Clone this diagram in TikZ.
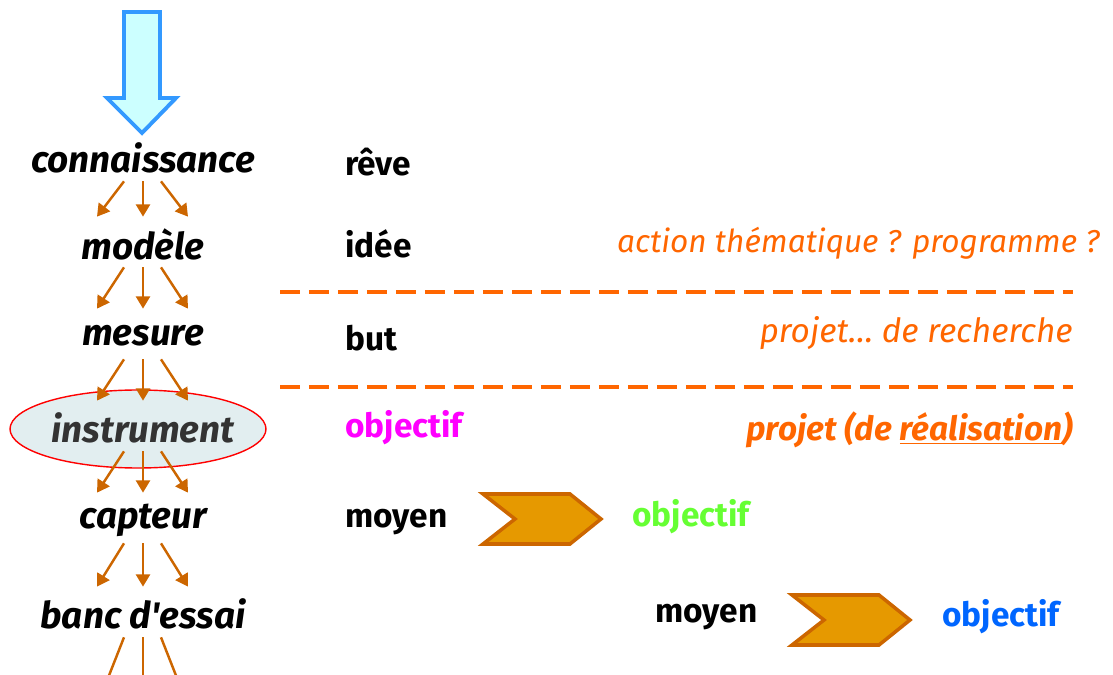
\documentclass[tikz,border=0pt]{standalone}
\usepackage{fontspec}
\setmainfont{Fira Sans}
\usetikzlibrary{arrows.meta}

\definecolor{brun}{HTML}{CC6600}
\definecolor{orangec}{HTML}{FF6600}
\definecolor{ciel}{HTML}{CCFFFF}
\definecolor{bleuf}{HTML}{3399FF}
\definecolor{or}{HTML}{E69900}
\definecolor{gris}{HTML}{E2EEF0}
\definecolor{rose}{HTML}{FF00FF}
\definecolor{vert}{HTML}{66FF33}
\definecolor{bleu}{HTML}{0066FF}

\tikzset{
  savoir/.style={font=\fontsize{21}{24}\selectfont\bfseries\itshape, minimum height=0.92cm, inner sep=0},
  mot/.style={anchor=west, font=\fontsize{19}{22}\selectfont\bfseries, inner sep=0},
  commentaire/.style={anchor=east, text=orangec, font=\fontsize{18}{21}\selectfont\itshape, inner sep=0},
  fleche/.style={draw=brun, line width=1.4pt, -{Triangle[width=8pt,length=7pt]}},
  chevron/.style={draw=brun, fill=or, line width=2pt, line join=miter},
  separation/.style={draw=orangec, line width=2.2pt, dash pattern=on 0.4cm off 0.18cm}
}

\begin{document}
\begin{tikzpicture}[x=0.02cm,y=-0.02cm]
  \useasboundingbox (0,0) rectangle (1113,675);

  % grosse fleche
  \draw[draw=bleuf, fill=ciel, line width=2.2pt, line join=miter]
    (124,12) -- (160,12) -- (160,98) -- (176,98) -- (142,133) -- (107,98) -- (124,98) -- cycle;

  % ellipse
  \draw[red, fill=gris, line width=0.8pt] (138,429) ellipse [x radius=128, y radius=39];

  \node[savoir] (conn) at (143,158) {connaissance};
  \node[savoir] (mod)  at (143,244) {modèle};
  \node[savoir] (mes)  at (143,336) {mesure};
  \node[savoir, text=black!80] (inst) at (143,428) {instrument};
  \node[savoir] (capt) at (143,520) {capteur};
  \node[savoir] (banc) at (143,614) {banc d\textquotesingle essai};
  \coordinate (bas) at (143,710);

  \foreach \a/\b in {conn/mod, mod/mes, mes/inst, inst/capt, capt/banc, banc/bas} {
    \draw[fleche] ([xshift=-0.38cm]\a.south) -- ([xshift=-0.92cm,yshift=0.08cm]\b.north);
    \draw[fleche] (\a.south) -- ([yshift=0.08cm]\b.north);
    \draw[fleche] ([xshift=0.36cm]\a.south) -- ([xshift=0.90cm,yshift=0.08cm]\b.north);
  }

  \node[mot] (reve)  at (345,162) {rêve};
  \node[mot] (idee)  at (345,244) {idée};
  \node[mot] (but)   at (345,338) {but};
  \node[mot, text=rose] (obj1) at (345,428) {objectif};
  \node[mot] (moy1)  at (345,522) {moyen};
  \node[mot, text=vert] (obj2) at (632,517) {objectif};
  \node[mot] (moy2)  at (655,617) {moyen};
  \node[mot, text=bleu] (obj3) at (942,617) {objectif};

  \node[commentaire] (action) at (1100,243) {action thématique ? programme ?};
  \node[commentaire, font=\fontsize{19}{22}\selectfont\itshape] (rech) at (1073,333) {projet… de recherche};
  \node[commentaire, font=\fontsize{19}{22}\selectfont\bfseries\itshape] (real) at (1073,430) {projet (de \underline{réalisation})};

  \draw[separation] (280,292) -- (1073,292);
  \draw[separation] (280,387) -- (1073,387);

  \draw[chevron, shift={(483,494)}] (0,0) -- (87,0) -- (118,25) -- (87,50) -- (0,50) -- (32,25) -- cycle;
  \draw[chevron, shift={(792,595)}] (0,0) -- (87,0) -- (118,25) -- (87,50) -- (0,50) -- (32,25) -- cycle;

\end{tikzpicture}
\end{document}
